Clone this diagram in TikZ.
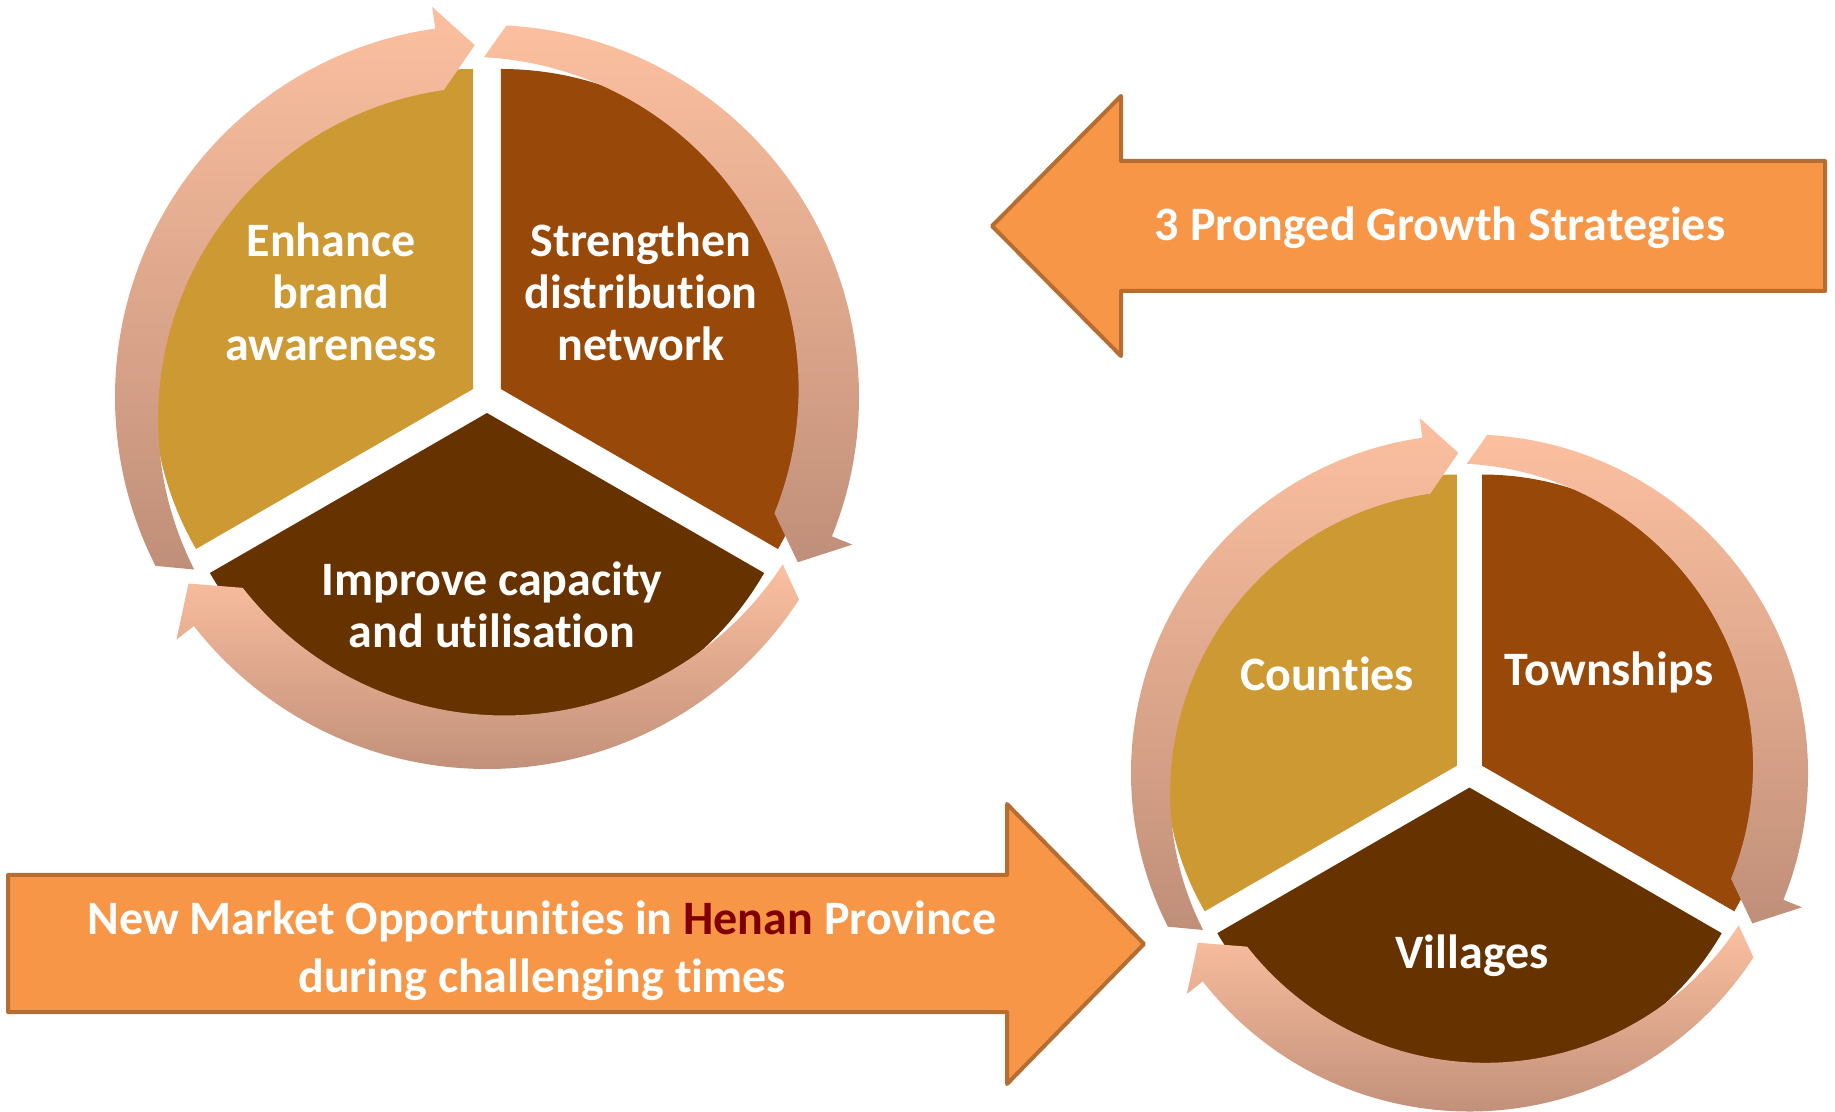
\documentclass[tikz,border=0pt]{standalone}
\usepackage{fontspec}
\setmainfont{Carlito}[Ligatures={NoCommon}]
\definecolor{gold}{RGB}{204,153,51}
\definecolor{rust}{RGB}{152,72,8}
\definecolor{dbrown}{RGB}{102,51,0}
\definecolor{orangefill}{RGB}{247,150,70}
\definecolor{orangeline}{RGB}{182,109,49}
\definecolor{ringtop}{RGB}{252,192,160}
\definecolor{ringbot}{RGB}{192,143,121}
\definecolor{henan}{RGB}{128,0,0}
\newcommand{\ringarrow}[2]{%
  \pgfmathsetmacro{\hb}{#2+6}%
  \shade[top color=ringtop, bottom color=ringbot]
    (#1:372) arc[start angle=#1, end angle=\hb, radius=372]
    -- (\hb:394) -- (#2:352) -- (\hb:310)
    arc[start angle=\hb, end angle=#1, radius=332] -- cycle;}
\newcommand{\piesector}[2]{%
  \pgfmathsetmacro{\sa}{#2+60}%
  \pgfmathsetmacro{\sb}{#2-60}%
  \fill[#1] (#2:16) -- ++(\sa:320) arc[start angle=\sa, end angle=\sb, radius=320] -- cycle;}
\begin{document}
\begin{tikzpicture}[x=1pt,y=1pt,
  pietext/.style={text=white, font=\bfseries\fontsize{48}{52}\selectfont, align=center, inner sep=0pt},
  arrowtext/.style={text=white, font=\bfseries\fontsize{48}{58}\selectfont, align=center, inner sep=0pt},
  arrowbox/.style={fill=orangefill, draw=orangeline, line width=4, line join=round}]
\useasboundingbox (0,0) rectangle (1835,1111);
\fill[white] (0,0) rectangle (1835,1111);
% left cycle
\begin{scope}[shift={(487,714)}]
  \piesector{gold}{150}
  \piesector{rust}{30}
  \piesector{dbrown}{270}
  \ringarrow{207}{92}
  \ringarrow{87}{-28}
  \ringarrow{-33}{-148}
\end{scope}
% right cycle
\begin{scope}[shift={(1469.5,338)}, scale=0.91]
  \piesector{gold}{150}
  \piesector{rust}{30}
  \piesector{dbrown}{270}
  \ringarrow{207}{92}
  \ringarrow{87}{-28}
  \ringarrow{-33}{-148}
\end{scope}
\node[pietext] (enh) at (331,819) {Enhance\\brand\\awareness};
\node[pietext] (str) at (641,819) {Strengthen\\distribution\\network};
\node[pietext] (imp) at (492,506) {Improve capacity\\and utilisation};
\node[pietext] (cou) at (1327,437) {Counties};
\node[pietext] (tow) at (1609,439) {Townships};
\node[pietext] (vil) at (1472,155) {Villages};
% big arrows
\draw[arrowbox] (8,236) -- (1007,236) -- (1007,307) -- (1144,167) -- (1007,27) -- (1007,99) -- (8,99) -- cycle;
\draw[arrowbox] (1825,950) -- (1121,950) -- (1121,1015) -- (992,885) -- (1121,755) -- (1121,820) -- (1825,820) -- cycle;
\node[arrowtext] (grow) at (1440,883) {3 Pronged Growth Strategies};
\node[arrowtext] (newm) at (542,160) {New Market Opportunities in \textcolor{henan}{Henan} Province\\during challenging times};
\end{tikzpicture}
\end{document}
